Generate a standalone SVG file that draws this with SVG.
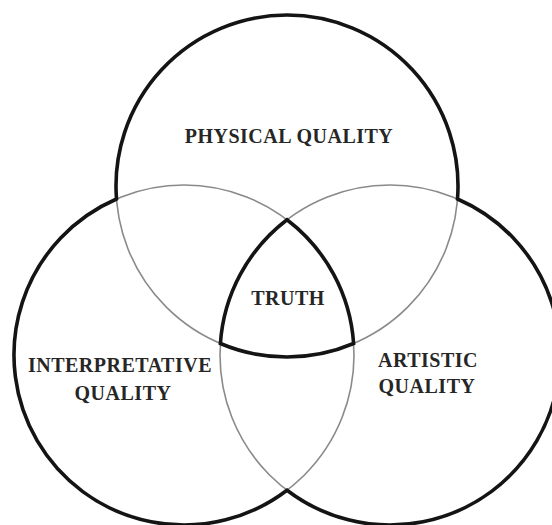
<svg xmlns="http://www.w3.org/2000/svg" width="552" height="525" viewBox="0 0 552 525">
<style>
.thin{fill:none;stroke:#8a8a8a;stroke-width:1.6}
.thick{fill:none;stroke:#141414;stroke-width:3.6;stroke-linejoin:miter}
.lbl{font-family:"Liberation Serif","Times New Roman",serif;font-weight:bold;font-size:20px;fill:#262626;text-anchor:middle;letter-spacing:0.5px}
</style>
<rect width="552" height="525" fill="#ffffff"/>
<g id="physical">
<circle class="thin" cx="287" cy="186" r="171"/>
<text class="lbl" x="289" y="143">PHYSICAL QUALITY</text>
</g>
<g id="interpretative">
<circle class="thin" cx="184" cy="355" r="170"/>
<text class="lbl" x="120" y="372">INTERPRETATIVE</text>
<text class="lbl" x="123" y="400">QUALITY</text>
</g>
<g id="artistic">
<circle class="thin" cx="390" cy="355" r="170"/>
<text class="lbl" x="428" y="367">ARTISTIC</text>
<text class="lbl" x="427" y="393">QUALITY</text>
</g>
<g id="outline">
<path class="thick" d="M116.49,198.98 A171,171 0 1 1 457.51,198.98 A170,170 0 1 1 287,490.24 A170,170 0 1 1 116.49,198.98 Z"/>
</g>
<g id="truth">
<path class="thick" d="M287,219.76 A170,170 0 0 1 353.61,343.5 A171,171 0 0 1 220.39,343.5 A170,170 0 0 1 287,219.76 Z"/>
<text class="lbl" x="288" y="305">TRUTH</text>
</g>
</svg>
